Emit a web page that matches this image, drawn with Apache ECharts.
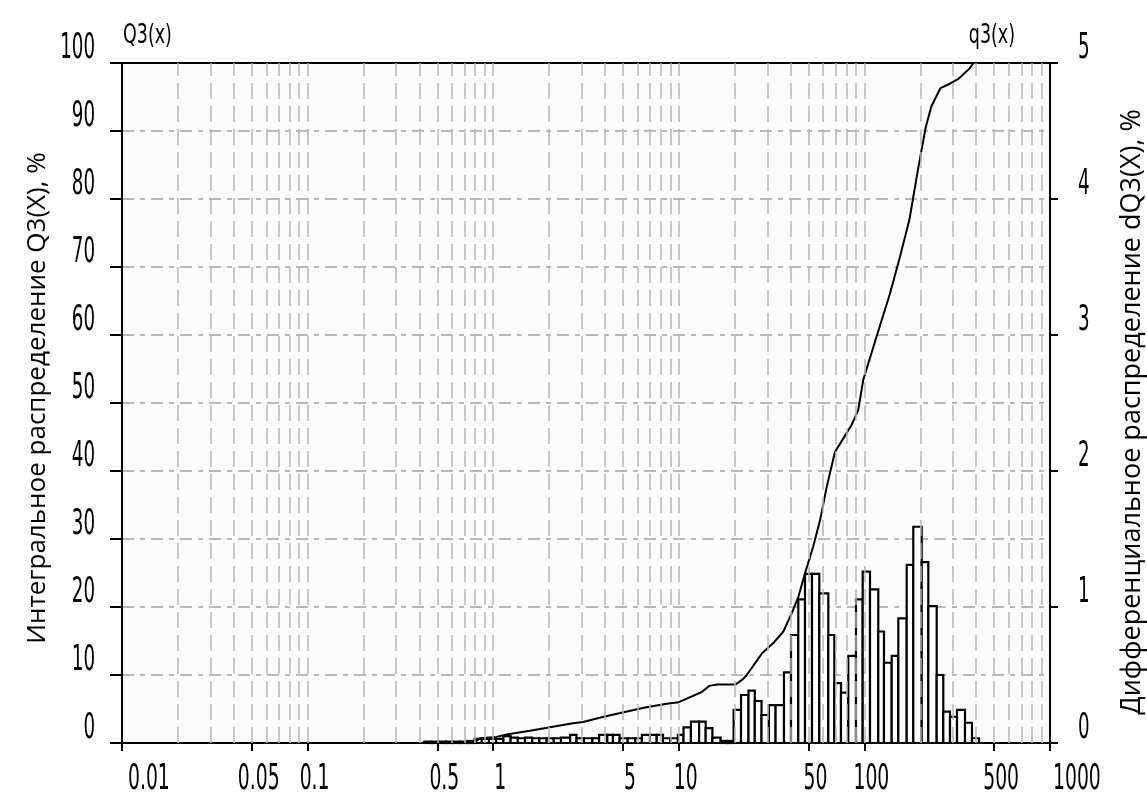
<!DOCTYPE html>
<html><head><meta charset="utf-8">
<script src="https://cdn.jsdelivr.net/npm/echarts@6/dist/echarts.min.js"></script>
<style>html,body{margin:0;padding:0;background:#fff}#c{width:1147px;height:796px}</style>
</head><body><div id="c"></div>
<script>
// x-axis tick labels (µm, log scale)
const xTickValues = [0.01, 0.05, 0.1, 0.5, 1, 5, 10, 50, 100, 500, 1000];
// left (Q3) and right (q3) axis tick labels
const leftTickLabels = [0, 10, 20, 30, 40, 50, 60, 70, 80, 90, 100];
const rightTickLabels = [0, 1, 2, 3, 4, 5];
// vertical grid lines (log minors + decades)
const xGridValues = [0.02,0.03,0.04,0.05,0.06,0.07,0.08,0.09,0.1,
  0.2,0.3,0.4,0.5,0.6,0.7,0.8,0.9,1,
  2,3,4,5,6,7,8,9,10,
  20,30,40,50,60,70,80,90,100,
  200,300,400,500,600,700,800,900];
// histogram class edges (µm)
const binEdges = [0.425,0.465,0.508,0.556,0.607,0.664,0.726,0.794,0.868,0.949,
  1.038,1.135,1.241,1.357,1.484,1.622,1.774,1.94,2.121,2.319,
  2.599,2.811,3.082,3.423,3.721,4.119,4.416,4.799,5.305,5.823,
  6.326,6.996,7.601,8.22,9.023,9.889,10.6,11.62,12.87,13.96,
  15.17,16.8,18.18,19.74,21.64,23.75,25.67,27.91,30.59,33.23,
  36.88,40.23,44.04,47.86,52.2,57.15,63.91,68.84,74.79,81.89,
  90.1,97.91,107.2,118.8,127.5,140.3,152.3,169,183.4,203.6,
  221,245.2,266.1,289.2,315.5,348.4,379.9,414.4];
// differential distribution q3 (%), one value per class
const binValues = [0.01,0.01,0.01,0.01,0.01,0.01,0.015,0.03,0.03,0.03,
  0.03,0.05,0.04,0.035,0.04,0.035,0.035,0.035,0.035,0.04,
  0.06,0.035,0.035,0.035,0.06,0.06,0.06,0.035,0.035,0.035,
  0.06,0.06,0.06,0.035,0.035,0.06,0.115,0.157,0.157,0.11,
  0.04,0.015,0.015,0.243,0.353,0.385,0.309,0.206,0.279,0.279,
  0.52,0.794,1.056,1.243,1.243,1.10,0.794,0.44,0.37,0.64,
  1.056,1.26,1.13,0.82,0.59,0.64,0.917,1.31,1.59,1.33,
  1.007,0.5,0.23,0.193,0.243,0.149,0.035];
// cumulative distribution Q3 (%)
const cumSize = [0.42,0.79,0.85,1.04,1.2,1.58,2.21,2.69,3.05,3.84,4.84,6.68,8.81,10.0,13.3,14.6,16.05,20.2,22.2,23.2,24.95,28.1,32.3,36.6,40.6,44.1,47.9,53.0,57.7,62.7,69.4,77.0,85.4,92.7,98.6,114,137,155.5,174.6,195.6,214.2,229.4,256.8,281.1,322.3,368.8,387,940];
const cumValues = [0,0.1,0.7,0.9,1.3,1.8,2.5,2.9,3.1,3.8,4.4,5.25,5.8,6.0,7.5,8.4,8.6,8.6,9.4,10,11.2,13.2,14.7,16.4,19.1,21.5,25,28.9,32.8,37.7,42.8,44.8,46.8,49,53.4,59,66,71.5,76.9,84.75,90.6,93.6,96.3,96.8,97.7,99.2,100,100];

const leftName = 'Q3(x)';
const rightName = 'q3(x)';
const leftTitle = 'Интегральное распределение Q3(X), %';
const rightTitle = 'Дифференциальное распределение dQ3(X), %';

const XMIN = 0.01, XMAX = 1000;
const cond = "'DejaVu Sans Condensed','DejaVu Sans',sans-serif";
const SQ = 0.58; // horizontal squeeze of the narrow axis font
const histData = binValues.map((v, i) => [binEdges[i], binEdges[i + 1], v]);
const cumData = cumSize.map((s, i) => [s, cumValues[i]]);
const tickPos = xTickValues.map(v => (v >= XMAX ? v * 0.99999 : v));

function narrowText(x, y, text, align, vAlign, size, sq) {
  return {type: 'text', x: x, y: y, scaleX: sq, silent: true,
    style: {text: text, fontFamily: cond, fontSize: size, lineHeight: 26, fill: '#000', align: align, verticalAlign: vAlign}};
}

const chart = echarts.init(document.getElementById('c'), null, {renderer: 'canvas'});
const logAxisBase = {type: 'log', logBase: 10, min: XMIN, max: XMAX};
chart.setOption({
  animation: false,
  backgroundColor: '#ffffff',
  grid: {left: 122, right: 97, top: 63, bottom: 53, show: true, backgroundColor: '#fcfcfc', borderWidth: 0, outerBoundsMode: 'none'},
  xAxis: [
    Object.assign({}, logAxisBase, {position: 'bottom', axisLine: {show: true, lineStyle: {color: '#000', width: 2}}, axisTick: {show: false}, axisLabel: {show: false}, splitLine: {show: false}}),
    Object.assign({}, logAxisBase, {position: 'bottom', offset: 7, axisLine: {show: false},
      axisTick: {show: true, customValues: tickPos, length: 8, lineStyle: {color: '#000', width: 2}},
      axisLabel: {show: false}, splitLine: {show: false}}),
    Object.assign({}, logAxisBase, {position: 'top', axisLine: {show: true, lineStyle: {color: '#000', width: 2}}, axisTick: {show: false}, axisLabel: {show: false}, splitLine: {show: false}})
  ],
  yAxis: [
    {type: 'value', min: 0, max: 100, interval: 10, position: 'left',
      axisLine: {show: true, lineStyle: {color: '#000', width: 2}},
      axisTick: {show: true, length: 12, lineStyle: {color: '#000', width: 2}},
      axisLabel: {show: false},
      splitLine: {show: true, lineStyle: {color: '#b8b8b8', width: 2, type: [12, 6, 5, 6]}}},
    {type: 'value', min: 0, max: 5, interval: 1, position: 'right',
      axisLine: {show: true, lineStyle: {color: '#000', width: 2}},
      axisTick: {show: true, length: 8, lineStyle: {color: '#000', width: 2}},
      axisLabel: {show: false},
      splitLine: {show: false}}
  ],
  graphic: [
    {type: 'text', x: 38, y: 398, rotation: Math.PI / 2, silent: true,
      style: {text: leftTitle, fontFamily: 'Open Sans', fontSize: 26, fill: '#000', align: 'center', verticalAlign: 'middle'}},
    {type: 'text', x: 1132, y: 412, rotation: Math.PI / 2, silent: true,
      style: {text: rightTitle, fontFamily: 'Open Sans', fontSize: 27, fill: '#000', align: 'center', verticalAlign: 'middle'}}
  ],
  series: [
    {type: 'line', xAxisIndex: 0, yAxisIndex: 0, data: [], z: 1, silent: true,
      markLine: {silent: true, symbol: 'none', animation: false, label: {show: false},
        lineStyle: {color: '#b5b5b5', width: 1.5, type: [16, 7]},
        data: xGridValues.map(v => ({xAxis: v}))}},
    {type: 'custom', xAxisIndex: 0, yAxisIndex: 1, data: histData, z: 3, silent: true,
      encode: {x: [0, 1], y: 2},
      renderItem: function (params, api) {
        const p0 = api.coord([api.value(0), 0]);
        const p1 = api.coord([api.value(1), api.value(2)]);
        return {type: 'rect', shape: {x: p0[0], y: p1[1], width: p1[0] - p0[0], height: p0[1] - p1[1]},
          style: {fill: '#ffffff', stroke: '#000', lineWidth: 2.2}};
      }},
    {type: 'line', xAxisIndex: 0, yAxisIndex: 0, data: cumData, z: 4, silent: true,
      showSymbol: false, lineStyle: {color: '#000', width: 2}},
    // x tick labels
    {type: 'custom', xAxisIndex: 0, yAxisIndex: 0, data: xTickValues.map(v => [v, 0]), z: 5, silent: true, clip: false,
      encode: {x: 0, y: 1},
      renderItem: function (params, api) {
        const v = api.value(0);
        const p = api.coord([v, 0]);
        const i = params.dataIndex;
        const last = xTickValues.length - 1;
        if (i === 0) return narrowText(p[0] + 6, p[1] + 24, String(v), 'left', 'top', 36, SQ);
        if (i === last) return narrowText(p[0] + 3, p[1] + 24, String(v), 'left', 'top', 36, SQ);
        return narrowText(p[0] + 7, p[1] + 24, String(v), 'center', 'top', 36, SQ);
      }},
    // left tick labels
    {type: 'custom', xAxisIndex: 0, yAxisIndex: 0, data: leftTickLabels.map(v => [XMIN, v]), z: 5, silent: true, clip: false,
      encode: {x: 0, y: 1},
      renderItem: function (params, api) {
        const p = api.coord([XMIN, api.value(1)]);
        return narrowText(p[0] - 27, p[1] - 1, String(api.value(1)), 'right', 'bottom', 35, SQ);
      }},
    // right tick labels
    {type: 'custom', xAxisIndex: 0, yAxisIndex: 1, data: rightTickLabels.map(v => [XMAX, v]), z: 5, silent: true, clip: false,
      encode: {x: 0, y: 1},
      renderItem: function (params, api) {
        const p = api.coord([XMAX, api.value(1)]);
        return narrowText(p[0] + 28, p[1] - 1, String(api.value(1)), 'left', 'bottom', 35, SQ);
      }},
    // axis names above the plot
    {type: 'custom', xAxisIndex: 0, yAxisIndex: 0, data: [[XMIN, 100, 0], [XMAX, 100, 1]], z: 5, silent: true, clip: false,
      encode: {x: 0, y: 1},
      renderItem: function (params, api) {
        const p = api.coord([api.value(0), api.value(1)]);
        if (api.value(2) === 0) return narrowText(p[0] + 1, p[1] - 14, leftName, 'left', 'bottom', 27, 0.72);
        return narrowText(p[0] - 35, p[1] - 14, rightName, 'right', 'bottom', 27, 0.72);
      }}
  ]
});
</script></body></html>
